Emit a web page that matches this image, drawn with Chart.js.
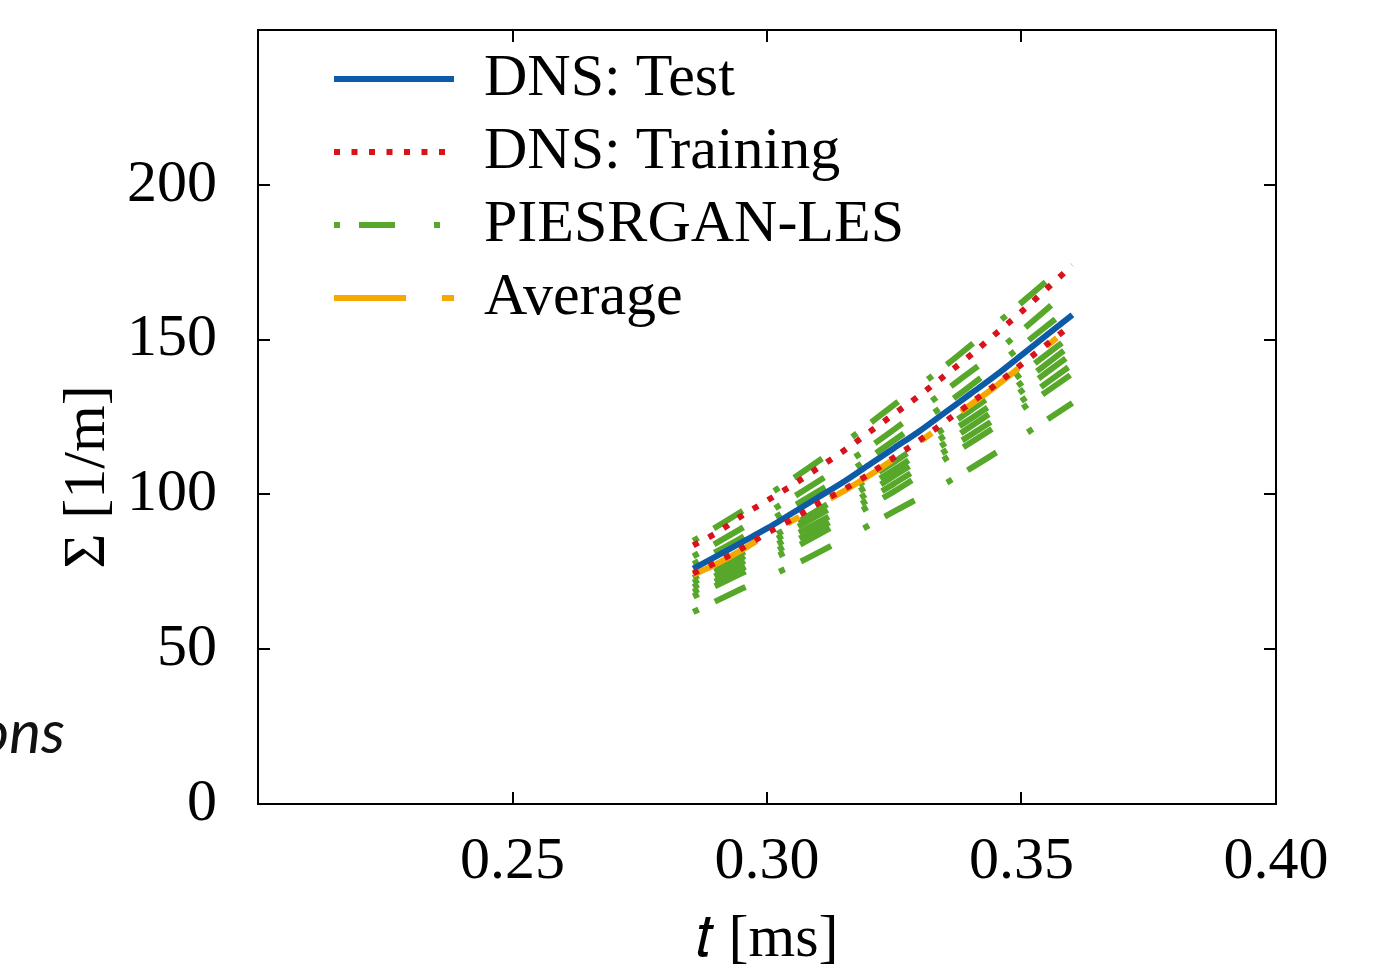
<!DOCTYPE html>
<html>
<head>
<meta charset="utf-8">
<script src="https://cdn.jsdelivr.net/npm/chart.js@4.4.1/dist/chart.umd.min.js"></script>
<style>
    body { margin: 0; background: #fff; }
    #wrap { position: relative; width: 1384px; height: 970px; }
    #slideText {
        position: absolute; right: 1319px; top: 700px;
        font: italic 60px Lato, 'Open Sans', sans-serif; line-height: 60px;
        color: #111; white-space: nowrap;
    }
</style>
</head>
<body>
<div id="wrap">
    <canvas id="sigmaChart"></canvas>
    <div id="slideText">ons</div>
</div>
<script>
// tempos (ms) e valores de Sigma [1/m]
const tDns = [0.2855, 0.29, 0.295, 0.30, 0.305, 0.31, 0.315, 0.32, 0.325, 0.33, 0.335, 0.34, 0.345, 0.35, 0.355, 0.36];
const dnsTest = [76, 80, 84.5, 89, 94, 99, 104, 109.5, 115, 120.5, 126.5, 132.5, 138.5, 145, 151.5, 158];
const dnsTrainingA = [83.5, 87.5, 93, 98, 103, 108.5, 114, 120, 126, 132, 138.5, 145, 152, 159, 166.5, 174];
const dnsTrainingB = [74.5, 78, 82.5, 87.5, 92, 97, 101.5, 106.5, 112, 117.5, 123.5, 129.5, 135.5, 142, 148.5, 155];
const lesAverage = [74, 77.5, 82, 87, 91.5, 96.5, 101, 106, 111.5, 117, 123, 129, 135, 141.5, 148, 154.5];

const tLes = [0.2855, 0.295, 0.305, 0.315, 0.325, 0.335, 0.345, 0.36];
const les1 = [85, 94.5, 105, 116.5, 129, 141.5, 155, 176];
const les2 = [80, 89, 99, 109.5, 121, 133.5, 146, 167];
const les3 = [77.5, 86, 96, 106, 117.5, 129, 141.5, 161];
const les4 = [73, 81, 90, 100, 110.5, 121.5, 133, 151.5];
const les5 = [71.5, 79.5, 88.5, 98, 108, 119, 130, 148.5];
const les6 = [70, 78, 86.5, 95.5, 106, 116.5, 127.5, 145.5];
const les7 = [68.5, 76, 84.5, 93.5, 103.5, 114, 124.5, 142];
const les8 = [67, 74.5, 82.5, 91.5, 101, 111.5, 122, 139];
const les9 = [62, 69.5, 77, 85.5, 94.5, 103.5, 113.5, 129.5];

const xTickValues = [0.20, 0.25, 0.30, 0.35, 0.40];
const yTickValues = [0, 50, 100, 150, 200, 250];

const FONTE = "'Liberation Serif', 'Times New Roman', serif";
const AZUL = '#0d5aa7';
const VERMELHO = '#d7141e';
const VERDE = '#57a82a';
const LARANJA = '#f7a800';

function pontos(ts, vs) {
    return ts.map((t, i) => ({ x: t, y: vs[i] }));
}

function serie(label, ts, vs, cor, dash, rank, dashLegenda) {
    return {
        label: label,
        data: pontos(ts, vs),
        borderColor: cor,
        backgroundColor: cor,
        borderWidth: 6,
        borderDash: dash,
        borderCapStyle: 'butt',
        pointRadius: 0,
        cubicInterpolationMode: 'monotone',
        fill: false,
        legendRank: rank,
        legendDash: dashLegenda || dash
    };
}

const tracoVerde = [6, 18, 34, 37];
const tracoVerdeLegenda = [6, 19, 36, 39];
const tracoLaranja = [72, 36, 13, 36];
const pontilhado = [6, 11.5];

// o primeiro dataset fica por cima
const datasets = [
    serie('DNS: Training', tDns, dnsTrainingA, VERMELHO, pontilhado, 2),
    serie('DNS: Training', tDns, dnsTrainingB, VERMELHO, pontilhado, 0),
    serie('DNS: Test', tDns, dnsTest, AZUL, [], 1),
    serie('Average', tDns, lesAverage, LARANJA, tracoLaranja, 4),
    serie('PIESRGAN-LES', tLes, les1, VERDE, tracoVerde, 3, tracoVerdeLegenda),
    serie('PIESRGAN-LES', tLes, les2, VERDE, tracoVerde, 0),
    serie('PIESRGAN-LES', tLes, les3, VERDE, tracoVerde, 0),
    serie('PIESRGAN-LES', tLes, les4, VERDE, tracoVerde, 0),
    serie('PIESRGAN-LES', tLes, les5, VERDE, tracoVerde, 0),
    serie('PIESRGAN-LES', tLes, les6, VERDE, tracoVerde, 0),
    serie('PIESRGAN-LES', tLes, les7, VERDE, tracoVerde, 0),
    serie('PIESRGAN-LES', tLes, les8, VERDE, tracoVerde, 0),
    serie('PIESRGAN-LES', tLes, les9, VERDE, tracoVerde, 0)
];

function gerarLegenda(chart) {
    return chart.data.datasets
        .map((ds, i) => ({
            text: ds.label,
            fillStyle: ds.borderColor,
            strokeStyle: ds.borderColor,
            fontColor: '#000',
            lineWidth: ds.borderWidth,
            lineDash: ds.legendDash,
            lineCap: 'butt',
            pointStyle: 'line',
            hidden: false,
            datasetIndex: i,
            rank: ds.legendRank
        }))
        .filter(item => item.rank > 0)
        .sort((a, b) => a.rank - b.rank);
}

// move a legenda para dentro do quadro, canto superior esquerdo
const posicionarLegenda = {
    id: 'posicionarLegenda',
    afterLayout(chart) {
        const lg = chart.legend;
        if (!lg) return;
        const pad = lg.options.labels.padding;
        lg.left = chart.chartArea.left + 76 - pad;
        lg.top = chart.chartArea.top + 19 - pad;
        lg.bottom = chart.chartArea.bottom;
    }
};

function eixoTicks(valores) {
    return (scale) => { scale.ticks = valores.map(v => ({ value: v })); };
}

function fixarTamanho(prop, valor) {
    return (s) => {
        s[prop] = valor;
        s.paddingTop = 0; s.paddingBottom = 0;
        s.paddingLeft = 0; s.paddingRight = 0;
    };
}

const gradeInterna = { drawOnChartArea: false, drawTicks: true, tickLength: -12, color: '#000', lineWidth: 2 };
const borda = { display: true, color: '#000', width: 2 };

new Chart(document.getElementById('sigmaChart'), {
    type: 'line',
    data: { datasets: datasets },
    plugins: [posicionarLegenda],
    options: {
        responsive: true,
        maintainAspectRatio: false,
        animation: false,
        layout: { padding: 0 },
        plugins: {
            tooltip: { enabled: false },
            legend: {
                position: 'chartArea',
                align: 'start',
                labels: {
                    usePointStyle: true,
                    pointStyleWidth: 120,
                    padding: 13,
                    color: '#000',
                    font: { family: FONTE, size: 60 },
                    generateLabels: gerarLegenda
                }
            }
        },
        scales: {
            x: {
                type: 'linear', position: 'bottom', min: 0.2, max: 0.4,
                afterBuildTicks: eixoTicks(xTickValues),
                afterFit: fixarTamanho('height', 166),
                grid: gradeInterna, border: borda,
                ticks: {
                    color: '#000', padding: 34,
                    font: { family: FONTE, size: 60 },
                    callback: v => (v < 0.21 ? '' : v.toFixed(2))
                },
                title: {
                    display: true, text: '𝑡 [ms]', color: '#000',
                    font: { family: FONTE, size: 60, lineHeight: 1 },
                    padding: { top: 1, bottom: 0 }
                }
            },
            y: {
                type: 'linear', position: 'left', min: 0, max: 250,
                afterBuildTicks: eixoTicks(yTickValues),
                afterFit: fixarTamanho('width', 258),
                grid: gradeInterna, border: borda,
                ticks: {
                    color: '#000', padding: 53,
                    font: { family: FONTE, size: 60 },
                    callback: v => (v >= 250 ? '' : String(v))
                },
                title: {
                    display: true, text: 'Σ [1/m]        ', color: '#000',
                    font: { family: FONTE, size: 60, lineHeight: 1 },
                    padding: { top: 58, bottom: 0 }
                }
            },
            x2: {
                type: 'linear', position: 'top', min: 0.2, max: 0.4,
                afterBuildTicks: eixoTicks(xTickValues),
                afterFit: fixarTamanho('height', 30),
                grid: gradeInterna, border: borda,
                ticks: { display: false }
            },
            y2: {
                type: 'linear', position: 'right', min: 0, max: 250,
                afterBuildTicks: eixoTicks(yTickValues),
                afterFit: fixarTamanho('width', 108),
                grid: gradeInterna, border: borda,
                ticks: { display: false }
            }
        }
    }
});
</script>
</body>
</html>
